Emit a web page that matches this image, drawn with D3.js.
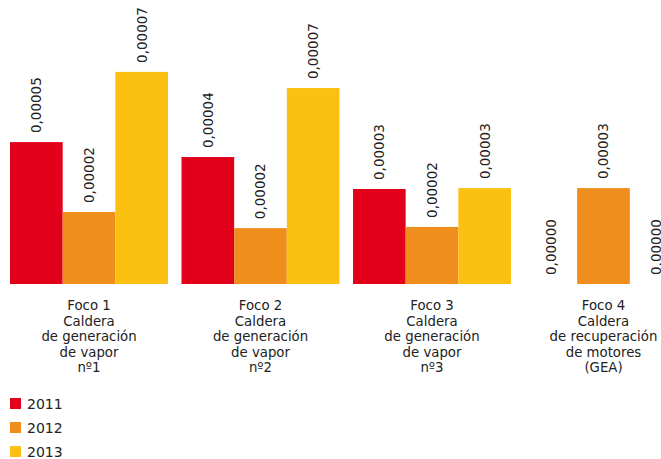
<!DOCTYPE html>
<html>
<head>
<meta charset="utf-8">
<script src="https://cdn.jsdelivr.net/npm/d3@7"></script>
<style>
  html, body { margin: 0; padding: 0; background: #fff; }
  svg { display: block; font-family: "DejaVu Sans", Verdana, sans-serif; }
</style>
</head>
<body>
<svg id="chart" width="661" height="459"></svg>
<script>
// Emission sources (each label is split over several lines)
const categories = [
  ["Foco 1", "Caldera", "de generación", "de vapor", "nº1"],
  ["Foco 2", "Caldera", "de generación", "de vapor", "nº2"],
  ["Foco 3", "Caldera", "de generación", "de vapor", "nº3"],
  ["Foco 4", "Caldera", "de recuperación", "de motores", "(GEA)"]
];
const years = ["2011", "2012", "2013"];
const colors = ["#e2001a", "#ef8e1d", "#fcc013"];

// Values per year, one entry per source
const values2011 = [0.0000475, 0.0000425, 0.0000318, 0];
const values2012 = [0.0000241, 0.0000187, 0.0000191, 0.0000321];
const values2013 = [0.0000710, 0.0000656, 0.0000321, 0];
const series = [values2011, values2012, values2013];

const svg = d3.select("#chart");
const baseline = 284;

const keys = categories.map(c => c[0]);
const x0 = d3.scaleBand()
  .domain(keys)
  .range([3.25, 689.25])
  .paddingInner(0.0787)
  .paddingOuter(0.0394);
const x1 = d3.scaleBand()
  .domain(years)
  .range([0, x0.bandwidth()]);
const y = d3.scaleLinear()
  .domain([0, 0.00008])
  .range([baseline, 45]);

const fmt = v => v.toFixed(5).replace(".", ",");

const rows = [];
keys.forEach((k, i) => {
  years.forEach((yr, j) => {
    rows.push({ key: k, year: yr, j, value: series[j][i] });
  });
});

const plot = svg.append("g");

plot.selectAll("rect.bar")
  .data(rows)
  .join("rect")
  .attr("class", "bar")
  .attr("x", d => x0(d.key) + x1(d.year))
  .attr("y", d => y(d.value))
  .attr("width", x1.bandwidth())
  .attr("height", d => baseline - y(d.value))
  .attr("fill", d => colors[d.j]);

// Vertical value labels above each bar
plot.selectAll("text.val")
  .data(rows)
  .join("text")
  .attr("class", "val")
  .attr("transform", d => {
    const cx = x0(d.key) + x1(d.year) + x1.bandwidth() / 2;
    const ty = Math.min(y(d.value) - 9, baseline - 2);
    return `translate(${cx},${ty}) rotate(-90)`;
  })
  .attr("dy", "0.36em")
  .attr("text-anchor", "start")
  .attr("font-size", 13.5)
  .attr("fill", "#222")
  .text(d => fmt(d.value));

// Category labels
const catG = svg.append("g")
  .selectAll("text")
  .data(categories)
  .join("text")
  .attr("text-anchor", "middle")
  .attr("font-size", 13.3)
  .attr("fill", "#222")
  .attr("transform", d => `translate(${x0(d[0]) + x0.bandwidth() / 2},310)`);
catG.selectAll("tspan")
  .data(d => d)
  .join("tspan")
  .attr("x", 0)
  .attr("y", (d, i) => i * 15.6)
  .text(d => d);

// Legend
const legend = svg.append("g").attr("transform", "translate(10,398)");
const li = legend.selectAll("g")
  .data(years)
  .join("g")
  .attr("transform", (d, i) => `translate(0,${i * 24})`);
li.append("rect")
  .attr("width", 11)
  .attr("height", 11)
  .attr("fill", (d, i) => colors[i]);
li.append("text")
  .attr("x", 17)
  .attr("y", 11)
  .attr("font-size", 14)
  .attr("fill", "#222")
  .text(d => d);
</script>
</body>
</html>
